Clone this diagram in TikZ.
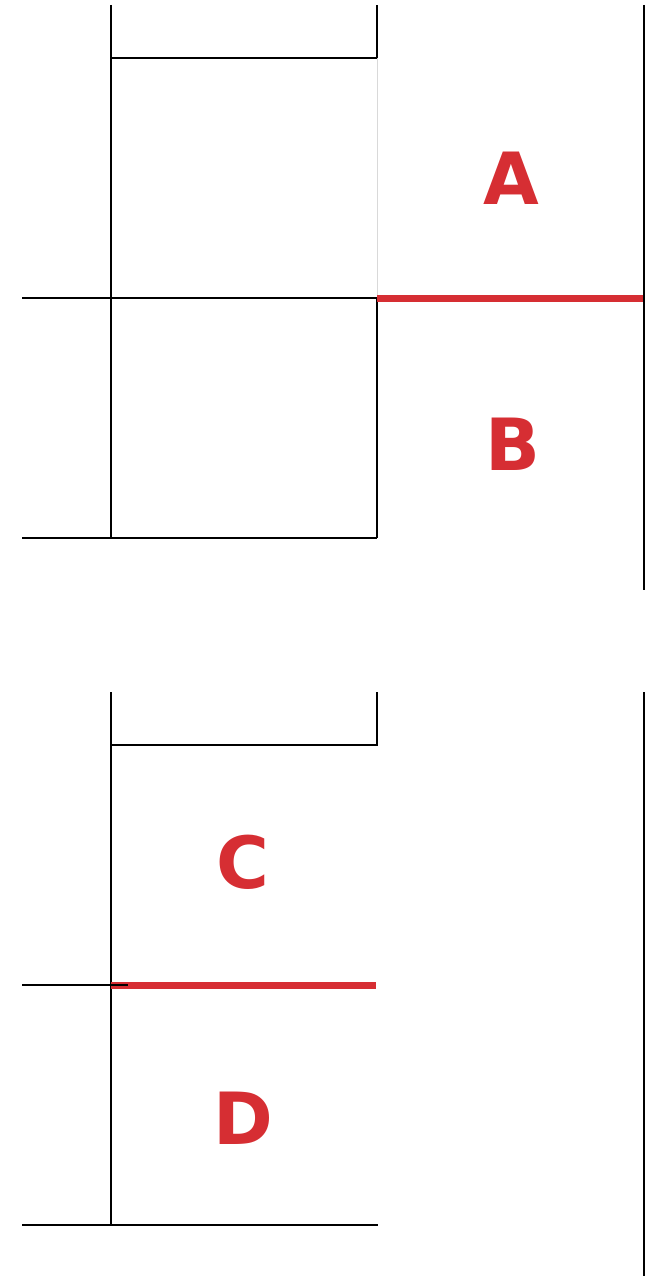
\documentclass[tikz,border=0pt]{standalone}
\usepackage{fontspec}
\newfontfamily\lblfont{DejaVu Sans}
\definecolor{mark}{RGB}{214,46,51}
\begin{document}
\begin{tikzpicture}[x=1pt,y=-1pt,
  wall/.style={draw=black,line width=2pt},
  faint/.style={draw=black!15,line width=0.8pt},
  redline/.style={draw=mark,line width=7pt},
  lbl/.style={text=mark,font=\lblfont\bfseries\fontsize{72}{72}\selectfont,inner sep=0pt}]
\useasboundingbox (0,0) rectangle (652,1276);
% top section coordinates
\coordinate (t1) at (111,5);
\coordinate (t2) at (111,538);
\coordinate (t3) at (111,58);
\coordinate (t4) at (377,58);
\coordinate (t5) at (377,5);
\coordinate (t6) at (377,298);
\coordinate (t7) at (377,538);
\coordinate (t8) at (22,298);
\coordinate (t9) at (22,538);
\coordinate (t10) at (644,298);
\coordinate (t11) at (644,5);
\coordinate (t12) at (644,590);
% top section lines
\draw[wall] (t1) -- (t2);
\draw[wall] (t3) -- (t4) -- (t5);
\draw[faint] (t4) -- (t6);
\draw[wall] (t8) -- (t6) -- (t7);
\draw[wall] (t9) -- (t7);
\draw[redline] (t6) -- (t10);
\draw[wall] (t11) -- (t12);
\node[lbl] (A) at (511,178) {A};
\node[lbl] (B) at (513,444) {B};
% bottom section coordinates
\coordinate (b1) at (111,692);
\coordinate (b2) at (111,1225);
\coordinate (b3) at (111,745);
\coordinate (b4) at (377,745);
\coordinate (b5) at (377,692);
\coordinate (b6) at (22,985);
\coordinate (b7) at (128,985);
\coordinate (b8) at (111,985);
\coordinate (b9) at (376,985);
\coordinate (b10) at (22,1225);
\coordinate (b11) at (378,1225);
\coordinate (b12) at (644,692);
\coordinate (b13) at (644,1276);
% bottom section lines
\draw[wall] (b1) -- (b2);
\draw[wall] (b3) -- (b4) -- (b5);
\draw[redline] (b8) -- (b9);
\draw[wall] (b6) -- (b7);
\draw[wall] (b10) -- (b11);
\draw[wall] (b12) -- (b13);
\node[lbl] (C) at (243,862) {C};
\node[lbl] (D) at (243,1118) {D};
\end{tikzpicture}
\end{document}
